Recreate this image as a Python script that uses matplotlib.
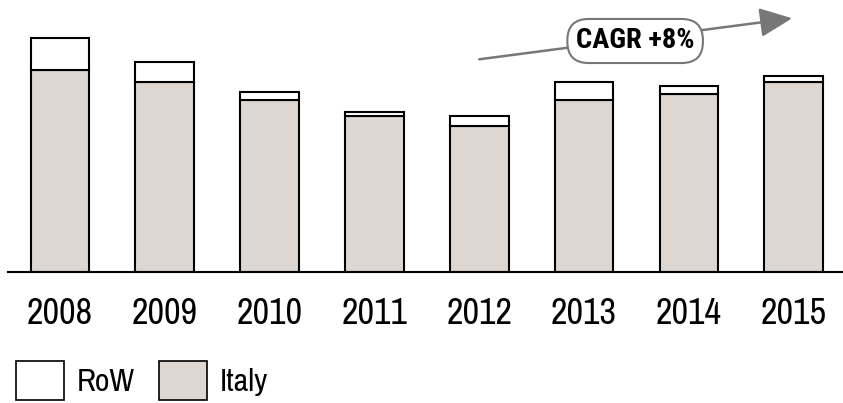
import numpy as np
import matplotlib
matplotlib.use("Agg")
from matplotlib import pyplot as plt
from matplotlib.patches import Patch

years = ["2008", "2009", "2010", "2011", "2012", "2013", "2014", "2015"]
italy = [201.7, 190.0, 172.0, 155.7, 145.7, 172.0, 177.7, 190.0]
row = [32.3, 20.0, 8.0, 4.3, 10.3, 18.0, 8.3, 5.7]
cagr_label = "CAGR +8%"

plt.rcParams['font.family'] = ['Archivo Narrow', 'Liberation Sans', 'DejaVu Sans']

fig = plt.figure(figsize=(8.43, 4.03), dpi=100)
ax = fig.add_axes([8 / 843, 131.3 / 403, 1 - 8 / 843, 271.7 / 403])

x = np.arange(len(years))
italy_col = "#DED6D1"
ax.bar(x, italy, width=0.56, color=italy_col, edgecolor="black", linewidth=1.5, label="Italy")
ax.bar(x, row, width=0.56, bottom=italy, color="white", edgecolor="black", linewidth=1.5, label="RoW")

ax.set_xlim(-0.496, 7.47)
ax.set_ylim(0, 271.7)
ax.set_xticks(x)
ax.set_xticklabels(years, fontsize=26)
ax.tick_params(axis="x", length=0, pad=18)
ax.set_yticks([])
for s in ["top", "right", "left"]:
    ax.spines[s].set_visible(False)
ax.spines["bottom"].set_linewidth(1.5)

# CAGR arrow
ax.annotate("", xy=(6.985, 253.4), xytext=(4.0, 212.4),
            arrowprops=dict(arrowstyle="-|>,head_length=1.0,head_width=0.45",
                            mutation_scale=20, color="#777777", lw=1.8,
                            shrinkA=0, shrinkB=0))
ax.text(5.487, 230.7, cagr_label, fontsize=20.5, fontweight="bold", ha="center", va="center",
        family=['Roboto Condensed', 'Asap Condensed', 'Liberation Sans'],
        bbox=dict(boxstyle="round,pad=0.3,rounding_size=0.75", fc="white", ec="#777777", lw=1.5))

handles = [Patch(facecolor="white", edgecolor="black", linewidth=1.2, label="RoW"),
           Patch(facecolor=italy_col, edgecolor="black", linewidth=1.2, label="Italy")]
fig.legend(handles=handles, loc="lower left", bbox_to_anchor=(16 / 843, 3 / 403), ncol=2, frameon=False,
           fontsize=23, handlelength=1.5, handleheight=1.5, handletextpad=0.4,
           columnspacing=0.75, borderaxespad=0, borderpad=0)

fig.savefig("out.png", dpi=100)
